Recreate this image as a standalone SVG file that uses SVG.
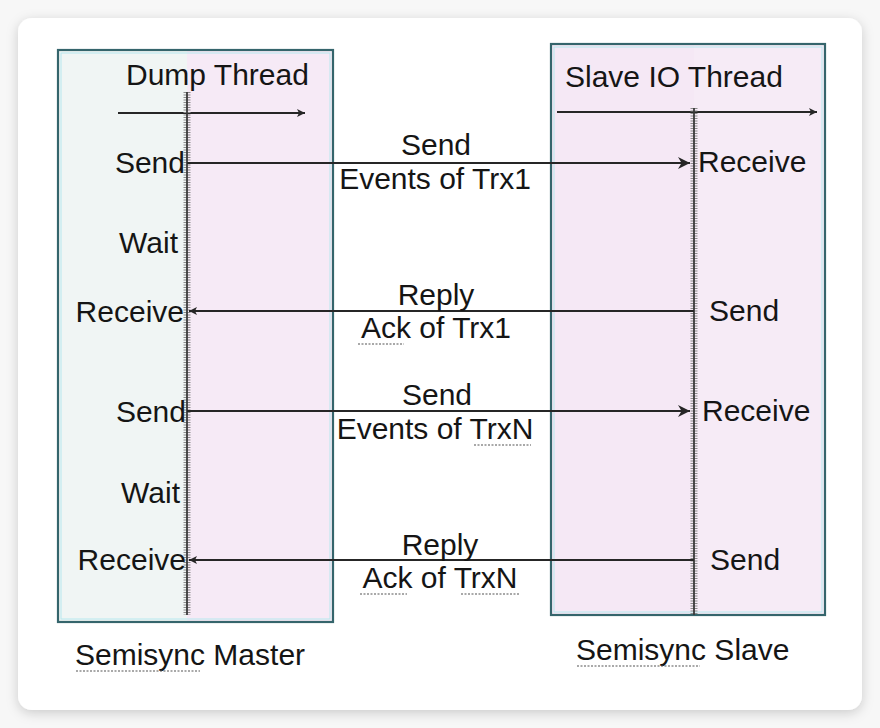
<svg xmlns="http://www.w3.org/2000/svg" width="880" height="728" viewBox="0 0 880 728">
<defs>
<style>
text{font-family:"Liberation Sans",Arial,sans-serif;font-size:30px;fill:#151515}
.box{stroke:#35656c;stroke-width:2.2;fill:none}
.life{stroke:#8a8a8a;stroke-width:7;stroke-dasharray:1 1.5}
.lifec{stroke:#3a3a3a;stroke-width:1.8}
.msg{stroke:#262626;stroke-width:2;fill:none}
.ul{stroke:#555;stroke-width:1.2;stroke-dasharray:2 1.5}
</style>
<marker id="ah" viewBox="0 0 10 10" refX="10" refY="5" markerWidth="10" markerHeight="8" markerUnits="userSpaceOnUse" orient="auto">
<path d="M0,0 L10,5 L0,10 L2.5,5 z" fill="#262626"/>
</marker>
<marker id="ahBig" viewBox="0 0 10 10" refX="10" refY="5" markerWidth="22" markerHeight="12" markerUnits="userSpaceOnUse" orient="auto">
<path d="M0,0 L10,5 L0,10 L3,5 z" fill="#262626"/>
</marker>
<filter id="sh" x="-5%" y="-5%" width="110%" height="110%">
<feDropShadow dx="0" dy="3" stdDeviation="6" flood-color="#000" flood-opacity="0.18"/>
</filter>
</defs>
<rect width="880" height="728" fill="#f7f7f7"/>
<rect x="18" y="18" width="844" height="692" rx="14" fill="#ffffff" filter="url(#sh)"/>

<g id="master">
<rect x="58" y="50" width="129" height="572" fill="#f0f5f4"/>
<rect x="187" y="50" width="146" height="572" fill="#f6eaf6"/>
<rect x="58" y="50" width="275" height="572" class="box"/>
<rect x="61" y="53" width="269" height="566" fill="none" stroke="#b6e8ee" stroke-width="1"/>
<text x="126" y="85">Dump Thread</text>
<line x1="118" y1="113" x2="305" y2="113" class="msg" marker-end="url(#ah)"/>
<line x1="187" y1="92" x2="187" y2="615" class="life"/>
<line x1="187" y1="92" x2="187" y2="615" class="lifec"/>
<text x="185" y="173" text-anchor="end">Send</text>
<text x="178" y="253" text-anchor="end">Wait</text>
<text x="184" y="322" text-anchor="end">Receive</text>
<text x="186" y="422" text-anchor="end">Send</text>
<text x="180" y="503" text-anchor="end">Wait</text>
<text x="186" y="570" text-anchor="end">Receive</text>
<text x="75" y="665">Semisync Master</text>
<line x1="76" y1="671" x2="200" y2="671" class="ul"/>
</g>

<g id="slave">
<rect x="551" y="44" width="143" height="571" fill="#f5e8f5"/>
<rect x="694" y="44" width="131" height="571" fill="#f6ebf6"/>
<rect x="551" y="44" width="274" height="571" class="box"/>
<rect x="554" y="47" width="268" height="565" fill="none" stroke="#b6e8ee" stroke-width="1"/>
<text x="565" y="87">Slave IO Thread</text>
<line x1="557" y1="112" x2="817" y2="112" class="msg" marker-end="url(#ah)"/>
<line x1="694" y1="108" x2="694" y2="615" class="life"/>
<line x1="694" y1="108" x2="694" y2="615" class="lifec"/>
<text x="698" y="172">Receive</text>
<text x="709" y="321">Send</text>
<text x="702" y="421">Receive</text>
<text x="710" y="570">Send</text>
<text x="576" y="660">Semisync Slave</text>
<line x1="577" y1="666" x2="700" y2="666" class="ul"/>
</g>

<g id="connectors">
<line x1="187" y1="163" x2="690" y2="163" class="msg" marker-end="url(#ahBig)"/>
<line x1="694" y1="311" x2="189" y2="311" class="msg" marker-end="url(#ah)"/>
<line x1="187" y1="411" x2="690" y2="411" class="msg" marker-end="url(#ahBig)"/>
<line x1="694" y1="560" x2="189" y2="560" class="msg" marker-end="url(#ah)"/>
<text x="436" y="155" text-anchor="middle">Send</text>
<text x="435" y="189" text-anchor="middle">Events of Trx1</text>
<text x="436" y="305" text-anchor="middle">Reply</text>
<text x="436" y="338" text-anchor="middle">Ack of Trx1</text>
<line x1="358" y1="344" x2="404" y2="344" class="ul"/>
<text x="437" y="405" text-anchor="middle">Send</text>
<text x="435" y="439" text-anchor="middle">Events of TrxN</text>
<line x1="474" y1="445" x2="531" y2="445" class="ul"/>
<text x="440" y="555" text-anchor="middle">Reply</text>
<text x="440" y="588" text-anchor="middle">Ack of TrxN</text>
<line x1="360" y1="594" x2="407" y2="594" class="ul"/>
<line x1="461" y1="594" x2="519" y2="594" class="ul"/>
</g>
</svg>
